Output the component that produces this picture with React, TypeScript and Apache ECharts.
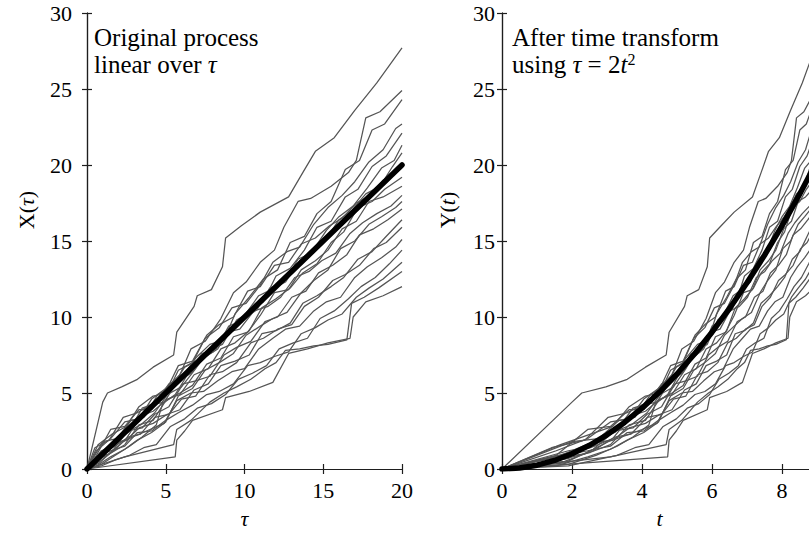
import React, { useEffect, useRef } from 'react';
import * as echarts from 'echarts';

// Sample paths of the process X(τ), each as [τ, X] pairs on 0 ≤ τ ≤ 20.
const path01: number[][] = [[0, 0], [1, 4.4], [1.3, 5.0], [2.2, 5.4], [3.2, 5.9], [4.2, 6.7], [5.5, 7.5], [5.7, 9.0], [6.8, 10.7], [7.0, 11.4], [7.9, 11.8], [8.6, 13.3], [8.8, 15.2], [9.8, 16.0], [11.0, 16.9], [12.8, 17.9], [13.7, 19.5], [14.5, 20.9], [15.7, 21.8], [17.0, 23.6], [18.4, 25.4], [20, 27.7]];
const path02: number[][] = [[0, 0], [0.6, 1.2], [1.5, 2.0], [2.4, 3.1], [3.3, 3.3], [4.1, 4.6], [5.0, 5.3], [5.9, 6.2], [6.6, 7.9], [7.5, 8.4], [8.5, 9.9], [9.3, 11.6], [10.1, 12.3], [11.0, 13.6], [11.9, 14.4], [12.5, 15.9], [13.4, 17.6], [14.2, 17.8], [15.5, 18.6], [16.6, 19.5], [17.1, 20.3], [17.7, 23.1], [18.6, 23.5], [20, 24.9]];
const path03: number[][] = [[0, 0], [0.9, 0.7], [1.8, 1.9], [2.6, 2.4], [3.5, 4.0], [4.3, 4.3], [5.2, 5.6], [6.0, 6.0], [6.9, 7.3], [7.8, 8.2], [8.7, 8.5], [9.4, 10.2], [10.3, 11.3], [11.2, 12.5], [12.1, 13.1], [12.9, 14.9], [13.8, 15.3], [14.6, 16.8], [15.5, 17.6], [16.4, 19.7], [17.3, 20.3], [18.1, 22.3], [18.9, 22.7], [20, 24.3]];
const path04: number[][] = [[0, 0], [0.7, 1.6], [1.6, 2.3], [2.5, 2.8], [3.3, 4.1], [4.2, 4.8], [5.1, 5.0], [5.8, 6.5], [6.7, 7.0], [7.5, 8.6], [8.4, 9.3], [9.2, 10.6], [10.1, 10.9], [11.0, 12.1], [11.8, 13.6], [12.7, 14.3], [13.5, 14.6], [14.4, 16.1], [15.3, 17.2], [16.2, 18.0], [17.0, 18.9], [17.9, 20.2], [18.8, 21.0], [19.6, 22.4], [20, 22.7]];
const path05: number[][] = [[0, 0], [0.8, 0.4], [1.7, 1.3], [2.5, 2.4], [3.4, 2.9], [4.3, 3.7], [5.1, 4.9], [6.0, 5.4], [6.9, 6.6], [7.7, 7.8], [8.6, 8.2], [9.5, 9.8], [10.3, 10.3], [11.2, 11.0], [12.0, 12.7], [12.9, 13.2], [13.8, 14.4], [14.6, 15.9], [15.5, 16.3], [16.4, 17.9], [17.2, 18.4], [18.1, 19.9], [19.0, 20.6], [20, 22.1]];
const path06: number[][] = [[0, 0], [0.5, 1.4], [1.4, 1.9], [2.3, 3.4], [3.2, 3.7], [4.0, 4.2], [4.9, 4.4], [5.7, 5.7], [6.6, 6.3], [7.4, 7.3], [8.3, 7.9], [9.1, 9.3], [10.0, 10.1], [10.9, 11.4], [11.7, 11.8], [12.6, 12.3], [13.5, 13.7], [14.3, 14.3], [15.2, 15.7], [16.0, 16.6], [16.9, 17.3], [17.8, 18.5], [18.7, 19.8], [19.5, 20.3], [20, 21.3]];
const path07: number[][] = [[0, 0], [0.9, 0.3], [1.8, 0.9], [2.7, 1.5], [3.5, 2.1], [4.4, 2.9], [4.8, 4.3], [5.6, 4.9], [6.5, 6.4], [7.3, 7.6], [8.2, 7.9], [9.0, 9.4], [9.9, 9.8], [10.8, 10.5], [11.6, 11.9], [12.5, 12.3], [13.4, 13.8], [14.2, 14.2], [15.1, 15.0], [16.0, 16.4], [16.8, 17.0], [17.7, 18.1], [18.6, 18.6], [19.4, 19.9], [20, 20.8]];
const path08: number[][] = [[0, 0], [0.6, 0.9], [1.5, 2.6], [2.4, 2.8], [3.3, 3.9], [4.1, 3.9], [5.0, 5.1], [5.8, 6.8], [6.7, 7.1], [7.6, 8.8], [8.4, 9.5], [9.3, 10.0], [10.2, 11.7], [11.0, 12.0], [11.9, 13.4], [12.8, 13.6], [13.6, 14.8], [14.5, 15.2], [15.4, 16.0], [16.2, 16.5], [17.1, 17.5], [18.0, 18.0], [18.8, 19.0], [20, 19.8]];
const path09: number[][] = [[0, 0], [0.8, 1.0], [1.6, 1.4], [2.5, 2.0], [3.4, 3.5], [4.2, 3.8], [5.1, 4.6], [5.9, 4.9], [6.8, 6.2], [7.7, 6.6], [8.5, 7.9], [9.4, 8.3], [10.3, 9.1], [11.1, 10.6], [12.0, 11.2], [12.9, 11.9], [13.7, 12.9], [14.6, 13.5], [15.5, 14.9], [16.3, 15.6], [17.2, 17.2], [18.1, 17.6], [18.9, 18.4], [20, 19.2]];
const path10: number[][] = [[0, 0], [0.7, 0.6], [1.6, 1.1], [2.4, 1.6], [3.3, 2.9], [4.2, 3.2], [5.0, 4.5], [5.9, 5.0], [6.7, 5.5], [7.6, 6.9], [8.5, 7.3], [9.3, 8.7], [10.2, 9.0], [11.0, 10.1], [11.9, 11.6], [12.8, 11.8], [13.6, 13.1], [14.5, 13.7], [15.3, 14.4], [16.2, 15.8], [17.1, 16.3], [17.9, 17.6], [18.8, 17.9], [20, 18.6]];
const path11: number[][] = [[0, 0], [1.0, 1.8], [1.9, 2.0], [2.8, 3.2], [3.6, 3.4], [4.5, 4.9], [5.4, 5.4], [6.2, 6.7], [7.1, 7.2], [8.0, 7.7], [8.9, 9.0], [9.7, 9.2], [10.6, 10.4], [11.5, 10.7], [12.3, 11.3], [13.2, 12.6], [14.1, 13.0], [14.9, 13.7], [15.8, 14.2], [16.7, 15.5], [17.5, 16.2], [18.4, 16.8], [19.3, 17.3], [20, 18.0]];
const path12: number[][] = [[0, 0], [0.6, 0.2], [1.5, 0.8], [2.4, 1.3], [3.2, 1.9], [4.1, 2.4], [5.0, 3.1], [5.8, 4.8], [6.7, 5.3], [7.5, 6.5], [8.4, 7.0], [9.3, 7.6], [10.1, 8.8], [11.0, 9.4], [11.8, 9.9], [12.7, 10.3], [13.6, 11.6], [14.4, 12.4], [15.3, 13.1], [16.1, 14.5], [17.0, 15.0], [17.9, 16.1], [18.7, 16.6], [19.6, 17.2], [20, 17.6]];
const path13: number[][] = [[0, 0], [0.9, 1.2], [1.7, 1.5], [2.6, 2.5], [3.5, 2.7], [4.3, 3.6], [5.2, 4.1], [6.1, 5.6], [6.9, 5.8], [7.8, 6.1], [8.7, 7.5], [9.5, 8.0], [10.4, 8.4], [11.3, 9.7], [12.1, 10.0], [13.0, 11.3], [13.9, 11.7], [14.7, 12.9], [15.6, 13.4], [16.5, 14.1], [17.3, 15.4], [18.2, 15.8], [19.1, 16.4], [20, 17.1]];
const path14: number[][] = [[0, 0], [0.7, 0.9], [1.6, 1.7], [2.5, 1.9], [3.3, 2.7], [4.2, 3.0], [5.1, 3.6], [5.9, 3.9], [6.8, 5.2], [7.7, 5.6], [8.5, 6.8], [9.4, 7.1], [10.3, 7.5], [11.1, 8.9], [12.0, 9.1], [12.9, 9.6], [13.7, 10.9], [14.6, 11.4], [15.5, 12.0], [16.3, 12.6], [17.2, 13.8], [18.1, 14.3], [18.9, 15.2], [20, 16.4]];
const path15: number[][] = [[0, 0], [0.8, 0.5], [1.7, 1.2], [2.6, 2.1], [3.4, 2.3], [4.3, 3.4], [5.2, 3.6], [6.0, 4.6], [6.9, 4.8], [7.8, 6.2], [8.6, 6.4], [9.5, 7.0], [10.4, 8.3], [11.2, 8.6], [12.1, 9.2], [13.0, 9.5], [13.8, 10.7], [14.7, 11.3], [15.6, 12.4], [16.4, 12.8], [17.3, 13.4], [18.2, 14.5], [19.0, 14.9], [20, 15.9]];
const path16: number[][] = [[0, 0], [0.5, 0.7], [1.4, 1.0], [2.3, 1.8], [3.1, 2.2], [4.0, 2.6], [4.9, 3.0], [5.7, 4.5], [6.6, 5.0], [7.4, 5.1], [8.3, 5.8], [9.2, 6.4], [10.0, 6.6], [10.9, 7.9], [11.8, 8.6], [12.6, 9.2], [13.5, 9.4], [14.4, 10.4], [15.2, 11.0], [16.1, 11.3], [17.0, 12.6], [17.8, 13.3], [18.7, 13.9], [19.6, 14.6], [20, 15.1]];
const path17: number[][] = [[0, 0], [0.9, 0.2], [1.8, 0.6], [2.7, 0.9], [3.6, 1.4], [4.4, 1.6], [5.3, 2.8], [6.2, 3.3], [7.0, 4.0], [7.9, 4.3], [8.8, 4.9], [9.6, 5.9], [10.5, 6.3], [11.4, 6.8], [12.2, 7.9], [13.1, 8.3], [14.0, 8.6], [14.8, 9.9], [15.7, 10.4], [16.6, 11.2], [17.4, 12.0], [18.3, 12.6], [19.2, 13.5], [20, 14.4]];
const path18: number[][] = [[0, 0], [0.6, 0.8], [1.5, 1.2], [2.4, 1.5], [3.2, 2.4], [4.1, 2.5], [5.0, 3.2], [5.8, 3.7], [6.7, 4.2], [7.6, 4.9], [8.4, 5.1], [9.3, 5.6], [10.2, 6.8], [11.0, 7.0], [11.9, 7.4], [12.8, 7.7], [13.6, 8.9], [14.5, 9.3], [15.3, 9.8], [16.2, 10.2], [17.1, 11.3], [17.9, 11.9], [18.8, 12.5], [20, 13.6]];
const path19: number[][] = [[0, 0], [2.4, 0.8], [5.5, 1.6], [5.7, 2.6], [6.6, 3.2], [7.8, 4.4], [8.7, 5.0], [9.5, 5.4], [10.4, 5.9], [11.3, 6.6], [12.0, 7.0], [12.6, 7.8], [13.5, 7.9], [14.4, 8.1], [15.3, 8.2], [16.5, 8.5], [16.8, 10.9], [17.6, 11.3], [18.5, 11.9], [20, 13.0]];
const path20: number[][] = [[0, 0], [5.6, 0.8], [5.7, 1.9], [6.2, 2.5], [6.7, 3.2], [8.6, 3.9], [8.8, 4.7], [10.3, 5.1], [11.8, 5.7], [12.8, 7.6], [14.0, 7.9], [15.3, 8.3], [16.7, 8.6], [16.9, 10.0], [17.7, 11.0], [18.8, 11.4], [20, 12.0]];

const samplePaths = [path01, path02, path03, path04, path05, path06, path07, path08, path09, path10,
  path11, path12, path13, path14, path15, path16, path17, path18, path19, path20];

// Expected value E[X(τ)] = drift · τ, sampled on a τ grid (square steps so the
// warped curve is evenly sampled in t).
const drift = 1;
const meanTau = [0, 0.0625, 0.25, 0.5625, 1, 1.5625, 2.25, 3.0625, 4, 5.0625, 6.25, 7.5625, 9,
  10.5625, 12.25, 14.0625, 16, 18.0625, 20];

// Time change between the two panels: t = 2·√τ.
const tOfTau = (tau: number) => 2 * Math.sqrt(tau);

const GRAY = '#555555';
const AXIS = '#1e1e1e';
const FONT = '"Liberation Serif", "DejaVu Serif", serif';

export default function App() {
  const ref = useRef<HTMLDivElement>(null);

  useEffect(() => {
    if (!ref.current) return;
    const chart = echarts.init(ref.current, undefined, { renderer: 'svg' });

    const labelStyle = { fontFamily: FONT, fontSize: 22, color: '#000' };
    const nameRich = {
      n: { fontFamily: FONT, fontSize: 22, color: '#000' },
      i: { fontFamily: FONT, fontSize: 22, fontStyle: 'italic', color: '#000' },
    };
    const line = { show: true, lineStyle: { color: AXIS, width: 1.2 } };
    const tick = { show: true, inside: true, length: 5, lineStyle: { color: AXIS, width: 1.2 } };

    const xAxisPair = (grid: number, max: number, interval: number, name: string, gap: number) => [
      {
        gridIndex: grid, type: 'value', min: 0, max, interval, position: 'bottom',
        axisLine: line, axisTick: tick, splitLine: { show: false },
        axisLabel: {
          ...labelStyle, margin: 10,
          formatter: (v: number) => (Math.abs(v / interval - Math.round(v / interval)) < 1e-9 ? String(v) : ''),
        },
        name, nameLocation: 'middle', nameGap: gap,
        nameTextStyle: { ...labelStyle, rich: nameRich },
      },
      {
        gridIndex: grid, type: 'value', min: 0, max, interval, position: 'top',
        axisLine: line, axisTick: tick, splitLine: { show: false }, axisLabel: { show: false },
      },
    ];
    const yAxisPair = (grid: number, margin: number) => [
      {
        gridIndex: grid, type: 'value', min: 0, max: 30, interval: 5, position: 'left',
        axisLine: line, axisTick: tick, splitLine: { show: false },
        axisLabel: { ...labelStyle, margin },
      },
      {
        gridIndex: grid, type: 'value', min: 0, max: 30, interval: 5, position: 'right',
        axisLine: line, axisTick: tick, splitLine: { show: false }, axisLabel: { show: false },
      },
    ];

    const series: any[] = [];
    samplePaths.forEach((p) => {
      const common = {
        type: 'line', showSymbol: false, symbol: 'none', silent: true, z: 2,
        lineStyle: { color: GRAY, width: 1.25 },
      };
      series.push({ ...common, xAxisIndex: 0, yAxisIndex: 0, data: p });
      series.push({ ...common, xAxisIndex: 2, yAxisIndex: 2, data: p.map(([tau, x]) => [tOfTau(tau), x]) });
    });
    const meanCommon = {
      type: 'line', showSymbol: false, symbol: 'none', silent: true, z: 5,
      lineStyle: { color: '#000', width: 5.5, cap: 'round', join: 'round' },
    };
    series.push({ ...meanCommon, xAxisIndex: 0, yAxisIndex: 0, data: meanTau.map((tau) => [tau, drift * tau]) });
    series.push({ ...meanCommon, xAxisIndex: 2, yAxisIndex: 2, data: meanTau.map((tau) => [tOfTau(tau), drift * tau]) });

    const textRich = {
      a: { fontFamily: FONT, fontSize: 25, color: '#000' },
      i: { fontFamily: FONT, fontSize: 25, fontStyle: 'italic', color: '#000' },
      s: { fontFamily: FONT, fontSize: 16, lineHeight: 14, verticalAlign: 'top', color: '#000' },
      n: { fontFamily: FONT, fontSize: 22, color: '#000' },
      m: { fontFamily: FONT, fontSize: 22, fontStyle: 'italic', color: '#000' },
    };
    const note = (x: number, y: number, text: string) => ({
      type: 'text', x, y, z: 10, silent: true,
      style: { text, fontFamily: FONT, fontSize: 25, fill: '#000', verticalAlign: 'middle', rich: textRich },
    });
    // Vertical axis titles, set beside the tick labels.
    const yTitle = (x: number, y: number, text: string) => ({
      type: 'text', x, y, rotation: Math.PI / 2, z: 10, silent: true,
      style: { text, fontFamily: FONT, fontSize: 22, fill: '#000', align: 'center', verticalAlign: 'middle', rich: textRich },
    });

    chart.setOption({
      animation: false,
      backgroundColor: '#fff',
      grid: [
        { left: 87, top: 13, width: 315, height: 456, containLabel: false, outerBoundsMode: 'none' },
        { left: 502, top: 13, width: 315, height: 456, containLabel: false, outerBoundsMode: 'none' },
      ],
      xAxis: [
        ...xAxisPair(0, 20, 5, '{i|τ}', 38),
        ...xAxisPair(1, 9, 2, '{i|t}', 38),
      ],
      yAxis: [
        ...yAxisPair(0, 15),
        ...yAxisPair(1, 7),
      ],
      series,
      graphic: [
        note(94, 37, '{a|Original process}'),
        note(94, 64, '{a|linear over }{i|τ}'),
        note(512, 37, '{a|After time transform}'),
        note(512, 64, '{a|using }{i|τ}{a| = 2}{i|t}{s|2}'),
        yTitle(26, 210, '{n|X(}{m|τ}{n|)}'),
        yTitle(447, 210, '{n|Y(}{m|t}{n|)}'),
      ],
    });

    return () => chart.dispose();
  }, []);

  return <div ref={ref} style={{ position: 'absolute', left: 0, top: 0, width: 809, height: 535 }} />;
}
